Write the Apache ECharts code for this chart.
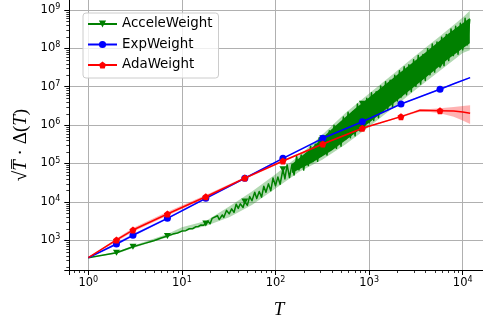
<!DOCTYPE html>
<html>
<head>
<meta charset="utf-8">
<script src="https://cdn.jsdelivr.net/npm/echarts@6/dist/echarts.min.js"></script>
<style>
html, body { margin: 0; padding: 0; background: #fff; }
#chart { width: 483px; height: 326px; }
</style>
</head>
<body>
<div id="chart"></div>
<script>
// values (log-log plot)
const markerT = [2, 3, 7, 18, 47, 120, 320, 846, 2190, 5720];

// ExpWeight (blue)
const expT = [1, 2, 3, 7, 18, 47, 120, 320, 846, 2190, 5720, 8300, 12000];
const expV = [352, 802, 1350, 3740, 12400, 41200, 136000, 453000, 1.22e6, 3.55e6, 8.6e6, 1.23e7, 1.72e7];
const expLo = [352, 741, 1260, 3510, 11700, 39400, 130000, 437000, 1.17e6, 3.43e6, 8.32e6, 1.19e7, 1.66e7];
const expHi = [352, 871, 1450, 3980, 13200, 43200, 143000, 473000, 1.26e6, 3.67e6, 8.91e6, 1.27e7, 1.78e7];

// AdaWeight (red)
const adaT = [1, 2, 3, 7, 18, 47, 120, 320, 846, 1300, 2190, 3000, 3500, 4500, 5720, 8000, 10000, 12000];
const adaV = [352, 1020, 1850, 4840, 13650, 41700, 116000, 322000, 826000, 1.13e6, 1.66e6, 2.14e6, 2.43e6, 2.40e6, 2.37e6, 2.32e6, 2.19e6, 2.04e6];
const adaLo = [352, 912, 1660, 4370, 12600, 38900, 110000, 309000, 794000, 1.10e6, 1.58e6, 2.0e6, 2.24e6, 2.19e6, 2.04e6, 1.66e6, 1.32e6, 1.07e6];
const adaHi = [352, 1120, 2090, 5500, 15100, 44700, 123000, 339000, 861000, 1.17e6, 1.74e6, 2.29e6, 2.63e6, 2.63e6, 2.75e6, 2.95e6, 3.16e6, 3.31e6];

// AcceleWeight (green, noisy)
const accT = [1, 2, 3, 4, 5, 6, 7, 8, 9, 10, 11, 12, 13, 14, 15, 16, 17, 18,
  19, 20, 21, 22, 24, 25, 27, 28, 30, 32, 34, 36, 38, 40, 42, 45, 47, 50, 53, 56, 60, 63, 67, 71, 75, 79,
  84, 89, 94, 100, 106, 112, 120, 126, 133, 141, 150, 158, 168, 178, 188, 200, 211, 224, 237, 251, 266, 282,
  293, 306, 320, 355, 376, 398, 422, 447, 473, 501, 531, 562, 596, 631, 668, 708, 750, 794, 846, 891, 944,
  1000, 1060, 1120, 1190, 1260, 1330, 1410, 1500, 1580, 1680, 1780, 1880, 2000, 2110, 2190, 2370, 2510,
  2660, 2820, 2990, 3160, 3350, 3550, 3760, 3980, 4220, 4470, 4730, 5010, 5310, 5720, 5960, 6310, 6680,
  7080, 7500, 7940, 8410, 8910, 9440, 10000, 10600, 11200, 11900];
const accV = [352, 473, 681, 832, 977, 1150, 1290, 1450, 1550, 1740, 1780, 2000, 2000, 2240, 2290, 2510, 2450, 2750,
  3.16e3, 2.69e3, 3.72e3, 3.31e3, 4.37e3, 3.47e3, 4.57e3, 3.94e3, 6.03e3, 4.90e3, 6.61e3, 5.31e3, 8.71e3, 6.76e3,
  8.91e3, 7.16e3, 1.02e4, 8.13e3, 1.38e4, 1.07e4, 1.78e4, 1.23e4, 1.86e4, 1.33e4, 2.57e4, 1.78e4,
  2.95e4, 1.95e4, 4.17e4, 2.63e4, 4.47e4, 2.88e4, 7.08e4, 3.98e4, 9.33e4, 4.32e4, 9.55e4, 5.01e4, 1.55e5, 6.84e4,
  1.66e5, 6.76e4, 1.78e5, 8.81e4, 2.82e5, 1.12e5, 3.16e5, 1.14e5,
  4.68e5, 1.58e5, 4.57e5, 1.66e5, 7.08e5, 2.34e5, 9.89e5, 2.48e5, 1.02e6, 2.82e5, 1.62e6, 4.22e5, 2.16e6, 4.68e5,
  2.24e6, 5.25e5, 3.55e6, 7.08e5, 3.59e6, 7.76e5, 5.01e6,
  1.15e6, 6.92e6, 1.32e6, 7.41e6, 1.55e6, 1.04e7, 2.21e6, 1.35e7, 2.51e6, 1.48e7, 3.02e6, 2.00e7, 4.27e6, 2.60e7,
  5.89e6, 3.31e7, 6.17e6, 3.72e7, 7.41e6, 5.01e7, 1.02e7, 6.53e7, 1.17e7, 6.92e7, 1.45e7, 9.77e7, 2.04e7, 1.29e8,
  2.40e7, 1.46e8, 3.55e7, 1.95e8, 3.55e7, 2.29e8, 4.79e7, 3.16e8, 6.46e7, 3.76e8, 7.00e7, 4.47e8, 9.12e7, 6.03e8,
  1.23e8, 5.75e8];
// light shading (std) around the green curve
const accBandT = [1, 2, 3, 7, 10, 18, 32, 56, 100, 178, 316, 562, 1000, 1780, 3160, 5620, 10000, 11900];
const accLo = [352, 447, 631, 1200, 1660, 2340, 3980, 8320, 2.24e4, 6.03e4, 1.26e5, 3.16e5, 9.12e5, 2.75e6, 8.51e6, 2.51e7, 7.59e7, 8.91e7];
const accHi = [352, 501, 724, 1450, 2190, 3160, 7590, 1.86e4, 5.25e4, 1.58e5, 5.62e5, 2.09e6, 6.61e6, 2.09e7, 6.61e7, 2.0e8, 6.31e8, 9.55e8];
// where the green trace is so dense that it reads as a solid strip
const accDenseT = [150, 250, 400, 700, 1000, 2000, 4000, 7000, 11900];
const accDenseLo = [5.62e4, 1.07e5, 2.19e5, 6.03e5, 1.15e6, 4.47e6, 1.70e7, 5.25e7, 1.35e8];
const accDenseHi = [9.77e4, 2.69e5, 7.94e5, 2.63e6, 5.25e6, 2.04e7, 7.76e7, 2.40e8, 6.17e8];

// minor ticks (2..9 per decade)
const xMinorTicks = [0.7, 0.8, 0.9, 2, 3, 4, 5, 6, 7, 8, 9, 20, 30, 40, 50, 60, 70, 80, 90,
  200, 300, 400, 500, 600, 700, 800, 900, 2000, 3000, 4000, 5000, 6000, 7000, 8000, 9000];
const yMinorTicks = [200, 300, 400, 500, 600, 700, 800, 900,
  2e3, 3e3, 4e3, 5e3, 6e3, 7e3, 8e3, 9e3, 2e4, 3e4, 4e4, 5e4, 6e4, 7e4, 8e4, 9e4,
  2e5, 3e5, 4e5, 5e5, 6e5, 7e5, 8e5, 9e5, 2e6, 3e6, 4e6, 5e6, 6e6, 7e6, 8e6, 9e6,
  2e7, 3e7, 4e7, 5e7, 6e7, 7e7, 8e7, 9e7, 2e8, 3e8, 4e8, 5e8, 6e8, 7e8, 8e8, 9e8];

const chart = echarts.init(document.getElementById("chart"));

function pairs(ts, vs) {
    return ts.map(function (t, i) {
        const item = { value: [t, vs[i]] };
        if (markerT.indexOf(t) < 0) item.symbol = "none";
        return item;
    });
}

// shaded band as one polygon
function band(ts, lo, hi, color, z) {
    return {
        type: "custom",
        silent: true,
        clip: true,
        z: z,
        data: [[ts[0], lo[0]]],
        renderItem: function (params, api) {
            const pts = [];
            for (let i = 0; i < ts.length; i++) pts.push(api.coord([ts[i], hi[i]]));
            for (let i = ts.length - 1; i >= 0; i--) pts.push(api.coord([ts[i], lo[i]]));
            return { type: "polygon", shape: { points: pts }, style: { fill: color } };
        },
    };
}

// small ticks between decades (matplotlib style)
function minorTicks(values, dim) {
    return {
        type: "custom",
        silent: true,
        clip: false,
        z: 10,
        data: values.map(function (v) { return dim === "x" ? [v, 1000] : [1, v]; }),
        renderItem: function (params, api) {
            const p = api.coord([api.value(0), api.value(1)]);
            const cs = params.coordSys;
            let shape;
            if (dim === "x") {
                const x = Math.round(p[0]) + 0.5;
                shape = { x1: x, y1: cs.y + cs.height, x2: x, y2: cs.y + cs.height + 3 };
            } else {
                const y = Math.round(p[1]) + 0.5;
                shape = { x1: cs.x, y1: y, x2: cs.x - 3, y2: y };
            }
            return { type: "line", shape: shape, style: { stroke: "#000", lineWidth: 0.8 } };
        },
    };
}

function powLabel(v) {
    const e = Math.log10(v);
    const r = Math.round(e);
    if (Math.abs(e - r) > 1e-6) return "";
    return "{b|10}{s|" + r + "}";
}

const labelRich = {
    b: { fontSize: 11.5, fontFamily: "DejaVu Sans", color: "#000", lineHeight: 14 },
    s: { fontSize: 8, fontFamily: "DejaVu Sans", color: "#000", verticalAlign: "top", lineHeight: 9 },
};

const option = {
    animation: false,
    backgroundColor: "#ffffff",
    textStyle: { fontFamily: "DejaVu Sans" },
    grid: { left: 69.3, right: -6.3, top: -2.3, bottom: 56, containLabel: false, outerBoundsMode: "none" },
    legend: {
        data: ["AcceleWeight", "ExpWeight", "AdaWeight"],
        orient: "vertical",
        left: 83,
        top: 13,
        itemWidth: 29,
        itemHeight: 9,
        itemGap: 6.5,
        itemTextGap: 11,
        padding: [4, 6, 6, 4],
        backgroundColor: "rgba(255,255,255,0.8)",
        borderColor: "#cccccc",
        borderWidth: 1,
        borderRadius: 3,
        z: 20,
        textStyle: { fontFamily: "DejaVu Sans", fontSize: 13.4, color: "#000", lineHeight: 14 },
    },
    xAxis: {
        type: "log",
        logBase: 10,
        min: 0.6266,
        max: 19231,
        axisLine: { show: true, onZero: false, lineStyle: { color: "#000", width: 1 } },
        axisTick: { show: true, length: 5, lineStyle: { color: "#000", width: 1 } },
        axisLabel: { formatter: powLabel, margin: 6, rich: labelRich },
        splitLine: { show: true, lineStyle: { color: "#b0b0b0", width: 1 } },
    },
    yAxis: {
        type: "log",
        logBase: 10,
        min: 168.5,
        max: 2.078e9,
        axisLine: { show: true, onZero: false, lineStyle: { color: "#000", width: 1 } },
        axisTick: { show: true, length: 5, lineStyle: { color: "#000", width: 1 } },
        axisLabel: { formatter: powLabel, margin: 9, rich: labelRich },
        splitLine: { show: true, lineStyle: { color: "#b0b0b0", width: 1 } },
    },
    graphic: [
        {
            type: "text",
            x: 279,
            y: 310,
            style: {
                text: "T",
                fontSize: 19,
                fontStyle: "italic",
                fontFamily: "Liberation Serif",
                fill: "#000",
                align: "center",
                verticalAlign: "middle",
            },
        },
        {
            type: "text",
            x: 21,
            y: 145,
            rotation: Math.PI / 2,
            style: {
                text: "{u|√}{i|T\u0305}{u| · Δ(}{i|T}{u|)}",
                align: "center",
                verticalAlign: "middle",
                rich: {
                    u: { fontSize: 19, fontFamily: "Liberation Serif", fill: "#000" },
                    i: { fontSize: 19, fontFamily: "Liberation Serif", fontStyle: "italic", fill: "#000" },
                },
            },
        },
    ],
    series: [
        band(accBandT, accLo, accHi, "rgba(0,128,0,0.3)", 1),
        band(accDenseT, accDenseLo, accDenseHi, "#008000", 2),
        {
            name: "AcceleWeight",
            type: "line",
            z: 3,
            data: pairs(accT, accV),
            symbol: "path://M0,0L2,0L1,1.73Z",
            symbolSize: [7, 6],
            showAllSymbol: true,
            color: "#008000",
            lineStyle: { color: "#008000", width: 1.5, join: "round" },
            itemStyle: { color: "#008000" },
        },
        band(expT, expLo, expHi, "rgba(0,0,255,0.3)", 4),
        {
            name: "ExpWeight",
            type: "line",
            z: 5,
            data: pairs(expT, expV),
            symbol: "circle",
            symbolSize: 7,
            showAllSymbol: true,
            color: "#0000ff",
            lineStyle: { color: "#0000ff", width: 1.5 },
            itemStyle: { color: "#0000ff" },
        },
        band(adaT, adaLo, adaHi, "rgba(255,0,0,0.3)", 6),
        {
            name: "AdaWeight",
            type: "line",
            z: 7,
            data: pairs(adaT, adaV),
            symbol: "path://M0,-1L0.951,-0.309L0.588,0.809L-0.588,0.809L-0.951,-0.309Z",
            symbolSize: 7,
            showAllSymbol: true,
            color: "#ff0000",
            lineStyle: { color: "#ff0000", width: 1.5 },
            itemStyle: { color: "#ff0000" },
        },
        minorTicks(xMinorTicks, "x"),
        minorTicks(yMinorTicks, "y"),
    ],
};

chart.setOption(option);
</script>
</body>
</html>
